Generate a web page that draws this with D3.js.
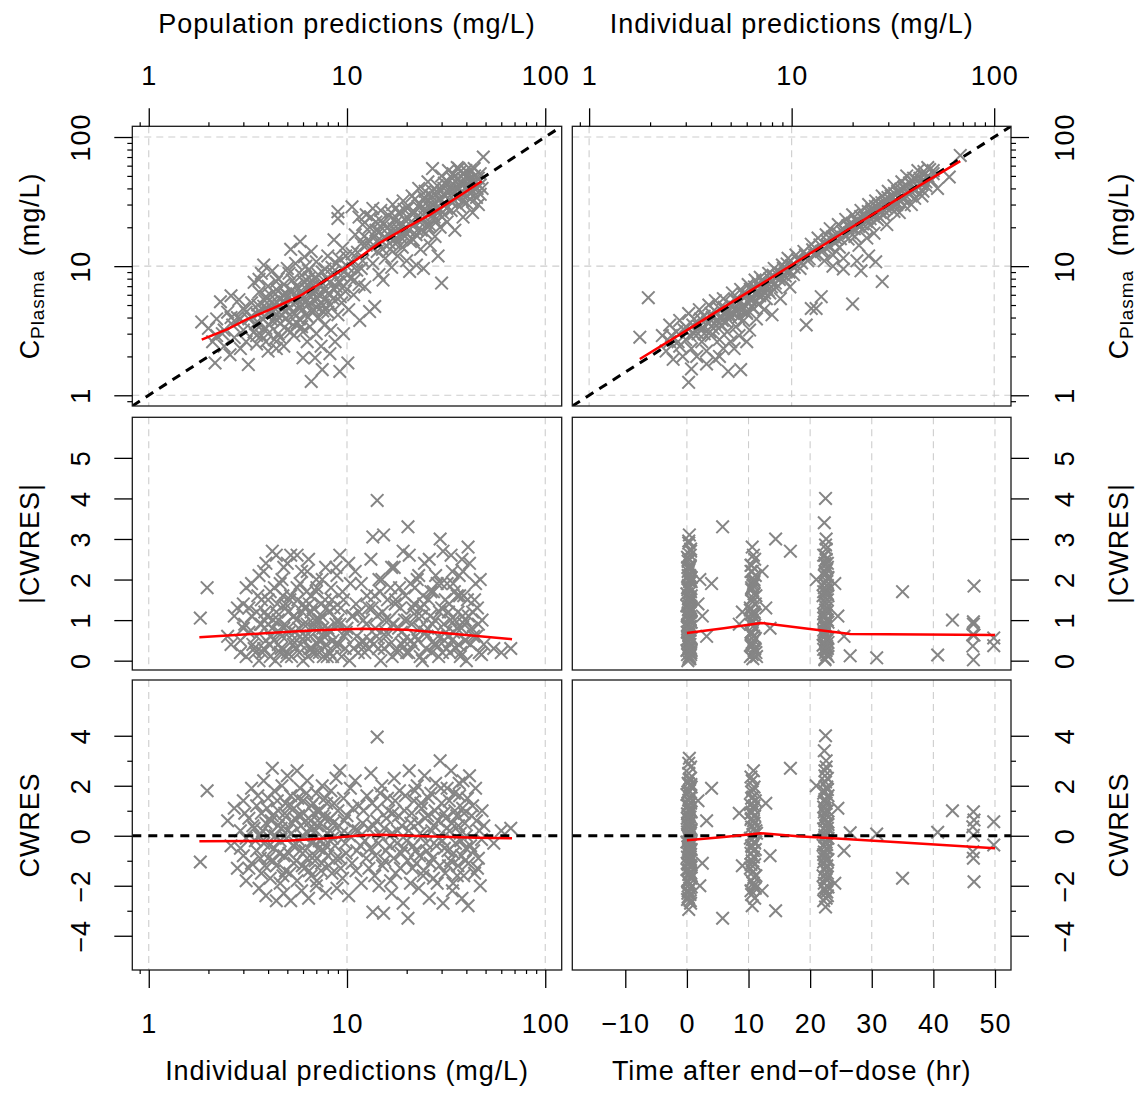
<!DOCTYPE html>
<html>
<head>
<meta charset="utf-8">
<script src="https://cdn.jsdelivr.net/npm/d3@7"></script>
<style>
  body { margin: 0; background: #ffffff; }
  text { font-family: "Liberation Sans", Arial, sans-serif; fill: #000000; letter-spacing: 0.9px; }
</style>
</head>
<body>
<svg id="chart" width="1140" height="1099"></svg>
<script>
// Observed vs population predictions [PRED, DV] (mg/L)
var predDv = [
    [1.85,3.7],[2.0,3.3],[2.1,2.6],[2.16,1.78],[2.2,3.9],[2.3,5.3],[2.35,3.0],[2.4,2.4],[2.5,4.4],[2.57,2.06],[2.6,5.9],[2.65,3.5],[2.7,2.8],[2.8,4.0],[2.85,5.5],[2.9,2.3],[3.0,3.2],[3.0,4.7],[3.1,2.6],[3.18,1.73],[3.2,3.9],
    [3.3,5.2],[3.4,3.1],[3.4,7.5],[3.5,4.3],[3.5,2.5],[3.6,6.3],[3.6,3.6],[3.7,8.8],[3.7,2.9],[3.8,4.9],[3.8,10.2],[3.9,5.8],[3.9,3.3],[3.9,2.6],[4.0,2.2],[4.0,4.4],[4.0,7.0],[4.1,6.0],[4.2,3.8],[4.2,9.2],[4.3,5.1],[4.3,2.7],[4.4,6.6],[4.4,4.2],[4.4,2.3],[4.5,3.0],[4.5,8.0],[4.6,5.5],[4.6,3.6],[4.7,4.7],[4.8,7.2],[4.8,2.4],[4.9,6.1],[4.9,3.9],[5.0,5.0],[5.0,9.6],[5.0,3.2],
    [5.2,13.5],[5.3,4.4],[5.3,7.8],[5.4,2.9],[5.5,5.8],[5.5,10.5],[5.6,3.6],[5.7,6.7],[5.8,4.9],[5.8,15.5],[5.9,8.5],[6.0,1.95],[6.0,3.1],[6.0,5.6],[6.1,11.8],[6.2,4.2],[6.3,7.2],[6.3,2.6],[6.4,9.3],[6.5,5.2],[6.5,3.4],[6.6,1.28],[6.6,13.0],[6.7,6.3],[6.8,4.6],[6.9,1.95],[6.9,8.0],[7.0,3.0],[7.0,10.8],[7.1,5.6],[7.2,4.0],[7.3,7.0],[7.4,2.4],[7.5,1.58],[7.5,9.0],[7.6,5.0],[7.7,3.5],[7.8,6.4],[8.0,12.0],[8.0,4.4],[8.2,2.1],[8.2,7.5],
    [8.3,3.2],[8.4,9.8],[8.5,5.6],[8.6,16],[8.7,2.6],[8.8,7.0],[9.0,26.4],[9.0,23.4],[9.0,4.2],[9.1,11.5],[9.2,1.53],[9.3,8.5],[9.4,5.2],[9.5,13.8],[9.6,3.0],[9.8,6.4],[10.0,10.0],[10.1,1.78],[10.2,4.6],[10.4,8.0],[10.6,28.8],[10.6,12.5],[10.8,6.0],[11.0,17.5],[11.2,9.3],[11.5,7.2],[11.5,24],[11.6,3.8],[12.0,11.0],[12.0,21],[12.3,6.9],[12.5,14.5],[12.5,25],
    [12.8,16],[13,4.45],[13.2,24],[13.5,10.5],[13.5,28],[13.8,4.87],[14,19],[14,22],[14.2,13],[14.5,8.6],[14.8,27],[15,15.5],[15.2,7.8],[15.3,21],[15.6,11.5],[16,17.8],[16.3,24.5],[16.5,13.5],[16.8,9.8],[17,30],[17.2,19.5],[17.5,15],[17.8,22],[18,12],[18.2,26],[18.5,17],[18.8,20.5],[19,14],[19.2,32],[19.5,23],[19.8,18],[20,11],[20.2,28],
    [20.7,9.1],[21,22],[21.3,35],[21.6,16],[22,26],[22.4,10.2],[22.6,19],[23,40],[23.2,30],[23.5,13.5],[24,23],[24.3,9.6],[24.5,34],[25,18],[25.3,27],[25.6,45],[26,21],[26.3,14.5],[26.6,31],[27,57],[27,38],[27.5,24],[27.8,17],[28,28],[28.5,42],[28.8,12],[29,33],[29.5,20],[30,7.4],[30,50],[30.3,26],[30.6,36],
    [31,44],[31.5,30],[32,22],[32.5,55],[33,38],[33.5,27],[34,48],[34.5,33],[35,19],[35.5,41],[36,58],[36.6,57],[37,29],[37.5,45],[38,36],[38.5,24],[39,52],[39.5,40],[40,31],[41,47],[41.5,37],[42,56],[43,26],[43.5,43],[44,50],[45,34],[46,30],[46.5,42],[47,52],[48,40],[48.7,70],
    [3.3,4.1],[3.45,3.6],[3.55,5.0],[3.65,4.4],[3.75,3.9],[3.85,5.4],[3.95,4.7],[4.05,3.5],[4.15,5.2],[4.25,4.5],[4.35,6.1],[4.45,3.8],[4.55,5.0],[4.65,4.2],[4.75,6.0],[4.85,5.3],[4.95,4.5],[5.05,5.9],[5.15,3.7],[5.25,6.5],[5.35,5.1],[5.45,4.3],[5.55,7.0],[5.65,5.4],[5.75,3.9],[5.85,6.1],[5.95,4.6],[6.05,7.6],[6.15,5.2],[6.25,6.6],[6.35,4.0],[6.45,8.1],[6.55,5.8],[6.65,4.4],[6.75,7.1],[6.85,5.4],[6.95,6.3],[7.05,4.8],[7.15,8.6],[7.25,6.0],[7.35,5.2],[7.45,7.5],[7.55,4.5],[7.65,6.7],[7.75,9.5],[7.85,5.6],[7.95,7.9],
    [8.1,6.2],[8.25,5.0],[8.45,8.9],[8.65,6.6],[8.85,10.5],[9.05,7.6],[9.25,5.8],[9.45,9.6],[9.65,7.0],[9.85,12],[10.1,8.6],[10.5,10.8],[10.9,7.8],[11.3,12.8],[11.8,9.6],[5.1,8.8],[4.4,7.6],[3.6,7.9],[6.2,10],[2.9,3.9],[3.1,4.4],[2.6,4.0],[2.4,3.2],[2.2,2.9],[3.5,2.9],[4.0,3.0],[4.6,2.8],[5.2,3.1],[5.9,3.4],
    [13.3,14],[13.7,17],[14.1,15.5],[14.6,18.5],[15.1,13.5],[15.6,16.5],[16.1,20],[16.4,15],[16.9,18],[17.3,23],[17.7,16.5],[18.1,19.5],[18.6,14.5],[19.1,21],[19.6,17],[20.1,24],[20.5,19],[20.9,15.5],[21.4,26],[21.9,21],[22.3,17.5],[22.8,29],[23.3,22],[23.7,19],[24.2,27],[24.7,24],[25.2,31],[25.7,20],[26.2,28],[26.7,35],[27.2,25],[27.7,31],[28.2,22],[28.7,37],[29.2,28],[29.7,33],[30.2,24],
    [30.8,40],[31.3,35],[31.8,28],[32.3,45],[32.8,33],[33.3,41],[33.8,31],[34.3,52],[34.8,38],[35.3,45],[35.8,34],[36.3,48],[36.8,40],[37.3,54],[37.8,43],[38.3,32],[38.8,47],[39.3,36],[39.8,55],[40.5,42],[41.2,52],[41.8,33],[42.5,47],[43.2,38],[43.8,57],[44.5,45],[45.3,40],[46,48],[47,36],[12.2,17],[13,20],[11.8,15],[14.8,22.5],[16.7,26],[19.4,27.5],[22,33],[24.8,38]
];

// Observed vs individual predictions [IPRED, DV] (mg/L)
var ipredDv = [
    [1.78,2.82],[1.96,5.7],[2.3,2.9],[2.4,2.2],[2.5,3.5],[2.5,2.6],[2.6,1.9],[2.7,3.1],[2.8,2.4],[2.8,3.8],[2.9,2.0],[3.0,3.4],[3.0,2.7],[3.1,1.26],[3.1,4.3],[3.2,2.3],[3.2,1.6],[3.3,3.0],[3.3,3.9],[3.4,2.0],[3.5,3.4],[3.5,4.6],[3.6,2.6],[3.7,3.0],[3.7,4.1],[3.8,2.2],[3.8,1.75],[3.9,3.6],[3.9,5.0],
    [4.0,2.9],[4.0,4.3],[4.1,3.3],[4.2,1.9],[4.2,5.4],[4.3,3.8],[4.4,2.7],[4.4,2.0],[4.4,4.7],[4.5,3.5],[4.6,5.6],[4.6,2.3],[4.7,4.2],[4.8,3.1],[4.86,1.53],[4.9,5.1],[5.0,4.0],[5.0,2.6],[5.1,6.2],[5.2,4.6],[5.2,2.3],[5.3,3.4],[5.4,5.4],[5.5,2.9],[5.6,1.58],[5.6,6.6],[5.7,4.9],[5.8,3.8],[5.9,5.9],
    [6.0,4.3],[6.0,2.6],[6.1,7.2],[6.2,3.2],[6.3,5.4],[6.4,6.4],[6.5,4.7],[6.6,7.8],[6.7,3.9],[6.8,6.0],[6.9,5.1],[7.0,8.2],[7.1,6.6],[7.3,4.6],[7.4,7.3],[7.5,5.6],[7.7,8.8],[7.8,6.2],[8.0,4.2],[8.0,7.6],[8.2,9.6],[8.4,6.8],[8.6,8.4],[8.8,5.6],[9.0,10.2],[9.2,7.8],[9.4,9.0],[9.6,11.5],[9.8,6.9],[10,10.1],[10.2,8.6],
    [10.5,12.2],[11,9.6],[11.5,13],[11.8,3.5],[12,11],[12.5,4.7],[12.5,14.8],[13,12.2],[13.2,4.7],[13.5,16.5],[14,5.8],[14,13],[14.5,11],[14.8,17.5],[15,14.5],[15.5,19.5],[16,12.2],[16,10],[16.5,16.5],[17,21],[17.2,14],[17.8,18.5],[18,11.5],[18,9.5],[18.5,23],[19,16.2],[19.5,20],[20,5.1],[20,25],[20.5,17],
    [21,22],[21,11],[21.5,14.5],[22,27],[22,9.2],[22.5,19.5],[23,24],[23.5,16.5],[24,30],[24,12],[24.5,21],[25,26],[25.5,18],[26,32],[26,10.8],[26.5,23],[27,28],[28,7.6],[28,35],[28.5,25],[29,31],[29.5,21],[30,38],
    [31,28],[31.5,34],[32,42],[33,30],[33.5,37],[34,26],[35,45],[35.5,33],[36,40],[37,50],[38,36],[38.5,44],[39,30],[40,48],[41,39],[42,55],[43,44],[44,35],[45,51],[46,42],[47,58],[48,47],[50,55],[52.5,40],[60,49],[68,72],
    [2.55,2.9],[2.75,2.6],[2.95,3.2],[3.15,2.9],[3.25,3.5],[3.45,3.0],[3.55,3.9],[3.65,3.3],[3.85,3.7],[3.95,3.1],[4.05,4.0],[4.15,3.6],[4.25,4.4],[4.35,3.3],[4.45,4.1],[4.55,3.8],[4.65,4.8],[4.75,3.7],[4.85,4.5],[4.95,4.2],[5.05,5.0],[5.15,4.3],[5.25,5.5],[5.35,4.6],[5.45,4.0],[5.55,5.3],[5.65,4.5],[5.75,6.1],[5.85,5.0],[5.95,4.4],
    [6.05,6.0],[6.15,5.2],[6.25,6.6],[6.35,4.8],[6.45,5.7],[6.55,6.9],[6.65,5.3],[6.75,6.4],[6.85,7.3],[6.95,5.9],[7.05,6.8],[7.2,7.6],[7.35,6.2],[7.5,7.0],[7.65,6.5],[7.8,8.0],[7.95,6.9],[8.1,8.5],[8.3,7.4],[8.5,9.1],[8.7,7.9],[8.9,8.8],[9.1,9.6],[9.3,8.4],[9.5,10.4],[9.7,9.0],[9.9,11],[10.3,9.8],[10.7,11.2],[11.2,10.6],[11.7,12.2],[12.2,11.4],[12.7,13.4],[13.3,12.5],[13.8,14.6],[14.3,13.2],[14.9,15.8],[15.4,14.3],[15.9,16.8],[16.4,15.2],[16.9,18],[17.4,16.3],[17.9,19.5],[18.4,17.4],[18.9,20.5],[19.4,18.2],[19.9,21.5],
    [20.4,19.5],[20.9,22.8],[21.4,20.3],[21.9,24.2],[22.4,21.2],[22.9,25],[23.4,22.2],[23.9,26.5],[24.4,23.3],[24.9,27.5],[25.4,24.2],[25.9,29],[26.4,25],[26.9,30],[27.4,26],[27.9,31],[28.4,27.3],[28.9,33],[29.4,28.2],[29.9,34],[30.4,29.3],[31,35],[31.6,30.5],[32.2,36.5],[32.8,31.5],[33.4,38],[34,33],[34.6,39.5],[35.2,34],[35.8,41],[36.4,35.5],[37,42],[37.6,37],[38.2,44],[38.8,38],[39.4,46],[40,39],[41,47],[42,41],[43,48],[44,43],[45,54],[46,45],[47,50],[48,56],[49,46],[50,52],[44.5,38],[40.5,33.5],[36,29.5],[32,26.5]
];

// CWRES vs individual predictions [IPRED, CWRES]
var ipredCwres = [
    [1.82,-1.05],[1.97,1.8],[2.5,0.6],[2.6,-0.4],[2.7,1.1],[2.8,-1.3],[2.9,0.2],[3.0,-0.8],[3.0,1.4],[3.1,-0.1],[3.1,-1.8],[3.2,0.7],
    [3.3,-1.1],[3.3,1.9],[3.4,0.3],[3.5,-0.6],[3.5,1.2],[3.6,-2.1],[3.6,0.0],[3.7,0.9],[3.7,-1.5],[3.8,2.2],[3.8,-0.3],[3.9,0.5],[3.9,-2.4],[4.0,1.5],[4.0,-0.9],[4.1,0.1],[4.1,-1.7],[4.2,2.7],[4.2,0.8],[4.3,-0.5],[4.3,1.8],[4.4,-1.2],[4.4,-2.6],[4.5,0.4],[4.5,1.0],[4.6,-0.2],[4.6,-1.9],[4.7,2.0],[4.7,0.6],[4.8,-0.8],[4.8,-2.3],[4.9,1.3],[4.9,-1.4],[5.0,0.2],[5.0,2.4],
    [5.1,-0.7],[5.2,1.6],[5.2,-2.6],[5.3,0.5],[5.4,-1.1],[5.4,1.1],[5.5,-0.3],[5.6,2.6],[5.6,-1.8],[5.7,0.8],[5.8,-0.6],[5.8,1.9],[5.9,-2.2],[6.0,0.0],[6.0,1.4],[6.1,-1.3],[6.2,0.6],[6.3,-0.9],[6.3,2.2],[6.4,-2.5],[6.5,0.3],[6.6,1.2],[6.6,-1.6],[6.7,-0.2],[6.8,0.9],[6.9,-1.0],[7.0,1.7],[7.0,-2.0],[7.1,0.4],[7.2,-0.5],[7.3,1.0],[7.4,-1.4],[7.5,2.0],[7.6,-0.1],[7.7,0.7],[7.8,-2.3],[7.9,1.3],[8.0,-0.8],
    [8.2,0.2],[8.3,1.8],[8.4,-1.5],[8.5,0.5],[8.7,-0.4],[8.8,2.3],[8.9,-2.1],[9.0,1.0],[9.2,2.6],[9.2,-0.9],[9.4,0.1],[9.5,-1.7],[9.6,1.5],[9.8,-0.3],[10,0.8],[10.2,-2.4],[10.4,1.9],[10.6,-1.1],[10.8,0.3],[11,2.2],[11.2,-0.6],[11.5,1.2],[11.8,-1.9],[12,0.5],
    [12.3,-0.2],[12.6,1.6],[12.9,-1.3],[13.2,2.5],[13.5,-3.05],[13.6,0.4],[13.9,-0.8],[14.2,3.95],[14.2,1.1],[14.5,-2.0],[14.8,0.0],[15,2.0],[15.3,-3.1],[15.5,-1.0],[15.8,0.7],[16,1.5],[16.4,-0.4],[16.8,-2.3],[17,0.9],[17.3,2.3],[17.6,-1.5],[18,0.2],[18.4,1.8],[18.8,-0.7],[19.2,-2.7],[19.5,1.0],[20,-0.2],[20.3,-3.3],
    [20.6,2.6],[21,0.5],[21.4,-1.3],[21.8,1.4],[22.2,-0.6],[22.6,2.0],[23,-2.1],[23.4,0.1],[23.8,1.1],[24.2,-1.6],[24.6,2.4],[25,-0.3],[25.5,0.8],[26,-2.5],[26.5,1.7],[27,-0.9],[27.5,0.4],[28,2.1],[28.5,-1.9],[29,-0.1],[29.5,3.0],[30,1.3],
    [30.5,-2.7],[31,-0.5],[31.5,0.7],[32,1.9],[32.5,-1.2],[33,0.2],[33.5,2.6],[34,-2.2],[34.5,-0.7],[35,1.0],[36,-1.6],[36.5,0.4],[37,1.6],[37.5,-0.2],[38,-2.5],[38.5,2.2],[39,0.9],[39.5,-1.0],[40,0.0],[40.8,-2.8],[41.5,2.4],[42,-0.4],[43,1.2],[44,-1.5],[45,0.6],[46,-0.9],[47.7,-0.15],[49,0.4],[55,-0.3],[60,0.2],[67,0.3],
    [2.9,-0.5],[3.05,0.9],[3.2,-1.3],[3.35,0.4],[3.45,-0.2],[3.55,1.6],[3.65,-0.9],[3.75,0.2],[3.85,-1.2],[3.95,1.1],[4.05,-0.4],[4.15,0.6],[4.25,-1.0],[4.35,0.0],[4.45,1.4],[4.55,-0.7],[4.65,0.3],[4.75,-1.6],[4.85,0.9],[4.95,-0.1],[5.05,1.2],[5.15,-1.5],[5.25,0.1],[5.35,-0.4],[5.45,0.7],[5.55,-1.0],[5.65,1.5],[5.75,-0.2],[5.85,0.4],[5.95,-1.2],
    [6.05,0.9],[6.15,-0.6],[6.25,1.7],[6.35,0.1],[6.45,-1.4],[6.55,0.6],[6.65,-0.3],[6.75,1.3],[6.85,-0.8],[6.95,0.2],[7.05,-1.8],[7.15,1.0],[7.25,-0.2],[7.35,0.5],[7.45,-1.1],[7.55,0.8],[7.65,-0.6],[7.75,1.5],[7.85,-0.4],[7.95,0.1],[8.1,-1.2],[8.25,0.7],[8.45,-0.1],[8.6,1.3],[8.8,-0.9],[9.1,0.4],[9.3,-1.3],[9.7,0.6],[9.9,-0.7],[10.3,0.0],[10.7,1.1],[11.1,-1.4],[11.4,0.2],[11.7,-0.4],[12.1,1.0],[12.5,-0.9],[12.8,0.3],
    [13.1,-0.5],[13.4,1.3],[13.8,-1.6],[14.1,0.6],[14.4,-0.3],[14.7,1.7],[15.1,-1.2],[15.4,0.3],[15.7,-0.6],[16.2,1.0],[16.6,-1.8],[16.9,0.1],[17.2,-0.9],[17.5,1.4],[17.9,-0.3],[18.2,0.8],[18.6,-1.3],[18.9,0.4],[19.3,-0.5],[19.7,1.6],[20.2,-1.0],[20.5,0.2],[20.9,-1.9],[21.2,0.9],[21.6,-0.4],[22,1.8],[22.4,-1.1],[22.8,0.5],[23.2,-0.8],[23.6,1.3],[24,0.0],[24.4,-1.4],[24.8,0.7],
    [25.3,-0.6],[25.8,1.5],[26.3,-1.1],[26.8,0.2],[27.3,-1.7],[27.8,1.0],[28.3,-0.4],[28.8,0.6],[29.3,-1.2],[29.8,1.9],[30.3,-0.2],[30.8,0.9],[31.3,-1.5],[31.8,0.3],[32.3,-0.6],[32.8,1.4],[33.3,-1.0],[33.8,0.5],[34.3,-1.9],[34.8,1.7],[35.3,-0.3],[35.8,0.8],[36.3,-1.2],[36.8,2.1],[37.3,0.1],[37.8,-0.8],[38.3,1.1],[38.8,-1.6],[39.3,0.5],[39.8,-0.5],[40.5,1.5],[41,-1.1],[42.5,0.8],[43.5,-0.6],[44.5,1.9],[45.5,-1.3],[46.5,0.2],[47,-2.0],[48,1.0]
];

// CWRES vs time after end of dose [TAD (hr), CWRES]
var tadCwres = [
    [0.3,-2.95],[0.6,-2.7],[0.1,-2.55],[0.5,-2.35],[0.2,-2.2],[0.7,-2.05],[0.4,-1.95],[0.1,-1.8],[0.6,-1.7],[0.3,-1.55],[0.5,-1.45],[0.0,-1.35],[0.7,-1.25],[0.2,-1.15],[0.4,-1.05],[0.6,-0.95],[0.1,-0.85],[0.5,-0.75],[0.3,-0.62],[0.7,-0.55],[0.2,-0.45],[0.4,-0.33],[0.0,-0.25],[0.6,-0.15],[0.3,-0.05],[0.5,0.05],[0.1,0.15],[0.7,0.25],[0.4,0.33],[0.2,0.45],[0.6,0.55],[0.3,0.65],[0.5,0.75],[0.1,0.88],[0.7,0.95],[0.4,1.08],[0.2,1.18],[0.6,1.3],[0.3,1.42],[0.5,1.55],[0.0,1.65],[0.4,1.8],[0.7,1.95],[0.2,2.1],[0.5,2.3],[0.3,2.5],[0.6,2.75],[0.4,3.1],[0.2,-0.7],[0.6,-1.2],[0.4,0.1],[0.1,0.5],[0.5,-0.4],[0.3,1.0],[0.7,-1.6],[0.2,-2.45],[0.5,2.0],[0.4,-0.1],
    [0.15,-2.3],[0.45,-2.1],[0.25,-1.85],[0.65,-1.5],[0.35,-1.35],[0.05,-1.1],[0.55,-0.85],[0.25,-0.55],[0.45,-0.2],[0.15,0.0],[0.65,0.2],[0.35,0.4],[0.05,0.7],[0.55,1.0],[0.25,1.25],[0.45,1.5],[0.15,1.75],[0.65,2.05],[0.35,2.25],[0.55,-2.6],[0.3,2.9],[0.5,-1.0],[0.2,0.8],[0.6,-0.3],
    [1.8,1.4],[2.5,-1.1],[3.2,0.6],[2.1,-2.0],[4.0,1.9],[5.8,-3.3],[8.5,0.9],[9.0,-1.2],
    [10.6,-2.8],[11.0,-2.5],[10.4,-2.2],[10.9,-2.0],[10.5,-1.8],[11.2,-1.6],[10.7,-1.45],[10.3,-1.3],[11.0,-1.15],[10.6,-1.0],[10.8,-0.85],[10.4,-0.7],[11.1,-0.55],[10.5,-0.4],[10.9,-0.25],[10.3,-0.1],[10.7,0.05],[11.2,0.2],[10.5,0.35],[10.9,0.5],[10.4,0.65],[11.0,0.8],[10.6,0.95],[10.8,1.1],[10.3,1.25],[11.1,1.4],[10.7,1.55],[10.5,1.75],[10.9,1.95],[10.6,2.2],[10.8,2.6],[11.0,-0.3],[10.4,0.9],[10.8,-1.9],[11.3,0.1],
    [10.5,-2.35],[10.9,-1.65],[10.4,-1.15],[10.8,-0.6],[10.6,-0.15],[11.0,0.3],[10.5,0.7],[10.9,1.2],[10.7,1.85],[10.4,2.35],[11.1,-2.1],[10.6,-0.45],[10.8,0.6],[10.5,1.5],
    [12.8,1.3],[13.5,-0.8],[12.2,-2.2],[14.4,-3.0],[16.8,2.7],[21.0,2.0],
    [22.5,-2.85],[22.2,-2.6],[22.8,-2.4],[22.4,-2.2],[22.9,-2.05],[22.3,-1.9],[22.6,-1.75],[22.1,-1.6],[22.8,-1.5],[22.4,-1.35],[22.7,-1.2],[22.2,-1.05],[22.9,-0.95],[22.5,-0.8],[22.3,-0.65],[22.7,-0.5],[22.1,-0.38],[22.6,-0.25],[22.9,-0.1],[22.4,0.02],[22.7,0.15],[22.2,0.28],[22.6,0.4],[22.9,0.55],[22.3,0.7],[22.5,0.85],[22.8,1.0],[22.2,1.15],[22.6,1.3],[22.4,1.45],[22.9,1.6],[22.3,1.8],[22.7,1.95],[22.5,2.15],[22.8,2.3],[22.4,2.6],[22.6,3.0],[22.5,4.0],[22.3,-0.9],[22.8,0.3],[22.5,-1.7],[22.2,1.7],[22.7,-2.25],[22.4,0.6],
    [22.6,-2.5],[22.3,-2.1],[22.8,-1.65],[22.5,-1.25],[22.2,-0.75],[22.7,-0.35],[22.4,-0.05],[22.9,0.45],[22.3,0.95],[22.6,1.4],[22.8,1.85],[22.4,2.4],[22.6,2.75],[22.3,3.4],[22.7,-1.0],[22.5,0.2],[22.4,1.1],[22.7,-0.55],
    [24.5,1.1],[25.5,-0.6],[24.0,-1.9],[26.5,0.12],[30.8,0.07],[35.0,-1.7],[40.7,0.14],[43.1,1.0],
    [46.5,0.96],[46.6,0.63],[46.4,0.36],[46.4,-0.64],[46.5,-0.9],[46.6,-1.84],[46.5,0.02],[49.8,0.56],[49.8,-0.37]
];

// Smooth (loess) curves
var smoothPredDv = [[1.85,2.7],[2.5,3.25],[3.1,3.85],[4.25,4.73],[5,5.3],[5.8,5.9],[7.6,7.6],[10,9.9],[12,12.2],[14.5,15],[17,17.3],[21,20.8],[26,24.8],[31,29.5],[38.5,36.5],[47.8,45.5]];
var smoothIpredDv = [[1.78,1.91],[3,3.15],[5,5.2],[10,10.2],[20,20.2],[40,39.5],[68,65]];
var smoothIpredAbs = [[1.8,0.58],[4,0.68],[7,0.75],[12,0.79],[20,0.76],[35,0.66],[68,0.53]];
var smoothIpredCwres = [[1.8,-0.22],[5,-0.2],[8,-0.1],[12,0.02],[15,0.04],[25,-0.02],[45,-0.08],[68,-0.1]];
var smoothTadAbs = [[0,0.68],[6,0.8],[12,0.93],[19,0.8],[26.5,0.66],[50,0.63]];
var smoothTadCwres = [[0,-0.18],[6,-0.05],[12,0.1],[18,-0.02],[25,-0.12],[35,-0.27],[50,-0.5]];

// Tick values
var logTicks = [1, 10, 100];
var logMinorTicks = [0.9, 2, 3, 4, 5, 6, 7, 8, 9, 20, 30, 40, 50, 60, 70, 80, 90];
var absTicks = [0, 1, 2, 3, 4, 5];
var cwresTicks = [-4, -2, 0, 2, 4];
var cwresMinorTicks = [-3, -1, 1, 3];
var tadTicks = [-10, 0, 10, 20, 30, 40, 50];
var tadGrid = [0, 10, 20, 30, 40, 50];

var svg = d3.select("#chart");
svg.append("rect").attr("width", 1140).attr("height", 1099).attr("fill", "#ffffff");

// Panel positions (pixels)
var colLeft = [132.3, 561.7], colRight = [572.3, 1011];
var rowTop = [406, 126.3], rowMid = [670, 417.3], rowBot = [970, 680];

var logDomain = [Math.pow(10, -0.083), Math.pow(10, 2.083)];
var xLogL = d3.scaleLog().domain(logDomain).range(colLeft);
var xLogR = d3.scaleLog().domain(logDomain).range(colRight);
var xTad = d3.scaleLinear().domain([-18.6, 52.6]).range(colRight);
var yLog = d3.scaleLog().domain(logDomain).range(rowTop);
var yAbs = d3.scaleLinear().domain([-0.23, 6.0]).range(rowMid);
var yCw = d3.scaleLinear().domain([-5.37, 6.23]).range(rowBot);

var crossPath = "M-6.3,-6.3L6.3,6.3M-6.3,6.3L6.3,-6.3";
var fontSize = 27;

// Draws one panel: grid, points, reference line, smooth and frame
function drawPanel(id, x, y, opts) {
    var xr = x.range(), yr = y.range();
    svg.append("clipPath").attr("id", id).append("rect")
        .attr("x", xr[0]).attr("y", yr[1])
        .attr("width", xr[1] - xr[0]).attr("height", yr[0] - yr[1]);

    var g = svg.append("g").attr("clip-path", "url(#" + id + ")");

    g.selectAll(".vgrid").data(opts.xGrid || []).enter().append("line")
        .attr("x1", d => x(d)).attr("x2", d => x(d))
        .attr("y1", yr[1]).attr("y2", yr[0])
        .style("stroke", "#cdcdcd").style("stroke-width", 1.1)
        .style("stroke-dasharray", "7,5");

    g.selectAll(".hgrid").data(opts.yGrid || []).enter().append("line")
        .attr("x1", xr[0]).attr("x2", xr[1])
        .attr("y1", d => y(d)).attr("y2", d => y(d))
        .style("stroke", "#cdcdcd").style("stroke-width", 1.1)
        .style("stroke-dasharray", "7,5");

    g.selectAll(".pt").data(opts.points).enter().append("path")
        .attr("transform", d => `translate(${x(d[0])},${y(d[1])})`)
        .attr("d", crossPath)
        .style("fill", "none")
        .style("stroke", "#858585")
        .style("stroke-width", 2);

    var refLine = null;
    if (opts.ref === "identity") refLine = [[logDomain[0], logDomain[0]], [logDomain[1], logDomain[1]]];
    if (opts.ref === "zero") refLine = [[x.domain()[0], 0], [x.domain()[1], 0]];
    if (refLine) {
        g.append("line")
            .attr("x1", x(refLine[0][0])).attr("y1", y(refLine[0][1]))
            .attr("x2", x(refLine[1][0])).attr("y2", y(refLine[1][1]))
            .style("stroke", "#000000").style("stroke-width", 3)
            .style("stroke-dasharray", "9,7");
    }

    g.append("path").datum(opts.smooth)
        .attr("d", d3.line().x(d => x(d[0])).y(d => y(d[1])))
        .style("fill", "none").style("stroke", "#ff0000").style("stroke-width", 2.5);

    svg.append("rect")
        .attr("x", xr[0]).attr("y", yr[1])
        .attr("width", xr[1] - xr[0]).attr("height", yr[0] - yr[1])
        .style("fill", "none").style("stroke", "#1a1a1a").style("stroke-width", 1.3);
}

// Draws an axis with major (labelled) and optional minor ticks
function drawAxis(side, scale, pos, major, minor, fmt) {
    var maker = { top: d3.axisTop, bottom: d3.axisBottom, left: d3.axisLeft, right: d3.axisRight }[side];
    var horizontal = side === "top" || side === "bottom";
    var shift = horizontal ? `translate(0,${pos})` : `translate(${pos},0)`;

    if (minor) {
        var gm = svg.append("g").attr("transform", shift)
            .call(maker(scale).tickValues(minor).tickSize(horizontal ? 4 : 5).tickFormat(""));
        gm.select(".domain").remove();
        gm.selectAll("line").style("stroke", "#000").style("stroke-width", 1.2);
    }

    var g = svg.append("g").attr("transform", shift)
        .call(maker(scale).tickValues(major).tickSize(18).tickFormat(fmt || (d => String(d))));
    g.select(".domain").remove();
    g.selectAll("line").style("stroke", "#000").style("stroke-width", 1.3);

    var t = g.selectAll("text")
        .style("font-size", fontSize + "px")
        .style("font-family", "'Liberation Sans', Arial, sans-serif")
        .attr("fill", "#000")
        .attr("dy", 0)
        .attr("text-anchor", "middle");

    if (side === "top") t.attr("y", -41.3).attr("x", 0);
    if (side === "bottom") t.attr("y", 63).attr("x", 0);
    if (side === "left") t.attr("x", 0).attr("y", -42.3).attr("transform", "rotate(-90)");
    if (side === "right") t.attr("x", 0).attr("y", 63).attr("transform", "rotate(-90)");
}

var absOf = pts => pts.map(d => [d[0], Math.abs(d[1])]);

// Row 1: DV vs PRED / IPRED
drawPanel("p1", xLogL, yLog, { xGrid: logTicks, yGrid: logTicks, points: predDv, ref: "identity", smooth: smoothPredDv });
drawPanel("p2", xLogR, yLog, { xGrid: logTicks, yGrid: logTicks, points: ipredDv, ref: "identity", smooth: smoothIpredDv });

// Row 2: |CWRES|
drawPanel("p3", xLogL, yAbs, { xGrid: logTicks, points: absOf(ipredCwres), smooth: smoothIpredAbs });
drawPanel("p4", xTad, yAbs, { xGrid: tadGrid, points: absOf(tadCwres), smooth: smoothTadAbs });

// Row 3: CWRES
drawPanel("p5", xLogL, yCw, { xGrid: logTicks, points: ipredCwres, ref: "zero", smooth: smoothIpredCwres });
drawPanel("p6", xTad, yCw, { xGrid: tadGrid, points: tadCwres, ref: "zero", smooth: smoothTadCwres });

// Axes
drawAxis("top", xLogL, rowTop[1], logTicks, logMinorTicks);
drawAxis("top", xLogR, rowTop[1], logTicks, logMinorTicks);
drawAxis("bottom", xLogL, rowBot[0], logTicks, logMinorTicks);
drawAxis("bottom", xTad, rowBot[0], tadTicks, null, d3.format("d"));
drawAxis("left", yLog, colLeft[0], logTicks, logMinorTicks);
drawAxis("right", yLog, colRight[1], logTicks, logMinorTicks);
drawAxis("left", yAbs, colLeft[0], absTicks);
drawAxis("right", yAbs, colRight[1], absTicks);
drawAxis("left", yCw, colLeft[0], cwresTicks, cwresMinorTicks, d3.format("d"));
drawAxis("right", yCw, colRight[1], cwresTicks, cwresMinorTicks, d3.format("d"));

// Axis titles
function title(x, y, rotate, parts) {
    var t = svg.append("text")
        .attr("text-anchor", "middle")
        .style("font-size", fontSize + "px")
        .attr("transform", `translate(${x},${y})` + (rotate ? " rotate(-90)" : ""));
    parts.forEach(p => {
        t.append("tspan").text(p.text)
            .attr("dx", p.dx || 0).attr("dy", p.dy || 0)
            .style("font-size", (p.size || fontSize) + "px");
    });
}

title(347, 33, false, [{ text: "Population predictions (mg/L)" }]);
title(791.7, 33, false, [{ text: "Individual predictions (mg/L)" }]);
title(347, 1080, false, [{ text: "Individual predictions (mg/L)" }]);
title(791.7, 1080, false, [{ text: "Time after end\u2212of\u2212dose (hr)" }]);

var cPlasma = [{ text: "C" }, { text: "Plasma", size: 19, dy: 5 }, { text: "(mg/L)", dx: 14, dy: -5 }];
title(38.5, 266, true, cPlasma);
title(1128, 266, true, cPlasma);
title(38.5, 543.6, true, [{ text: "|CWRES|" }]);
title(1128, 543.6, true, [{ text: "|CWRES|" }]);
title(38.5, 825, true, [{ text: "CWRES" }]);
title(1128, 825, true, [{ text: "CWRES" }]);
</script>
</body>
</html>
